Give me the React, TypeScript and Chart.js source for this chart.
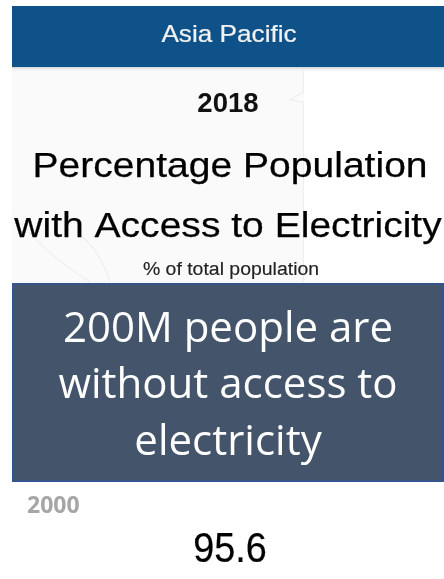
import React, { useEffect, useRef } from "react";
import { Chart, registerables } from "chart.js";

Chart.register(...registerables);

// ---- data ----
const regionLabels = ["Asia Pacific"];
const yearLabels = ["2018", "2000"];
const titleLines = ["Percentage Population", "with Access to Electricity"];
const subtitleLines = ["% of total population"];
const calloutLines = ["200M people are", "without access to", "electricity"];
const kpiValues = [95.6];

const ARIAL = '"Liberation Sans", Arial, sans-serif';
const CALIBRI = '"Open Sans", "Noto Sans", sans-serif';

function drawText(
  ctx: CanvasRenderingContext2D,
  text: string,
  x: number,
  y: number,
  font: string,
  color: string,
  align: CanvasTextAlign = "center",
  sx = 1,
  weight = 0
) {
  ctx.save();
  ctx.translate(x, y);
  ctx.scale(sx, 1);
  ctx.font = font;
  ctx.fillStyle = color;
  ctx.textAlign = align;
  ctx.textBaseline = "alphabetic";
  ctx.fillText(text, 0, 0);
  if (weight > 0) {
    ctx.strokeStyle = color;
    ctx.lineWidth = weight;
    ctx.lineJoin = "round";
    ctx.strokeText(text, 0, 0);
  }
  ctx.restore();
}

const cardPlugin = {
  id: "kpiCard",
  beforeDraw(chart: any) {
    const ctx: CanvasRenderingContext2D = chart.ctx;
    const W = chart.width;
    const H = chart.height;
    ctx.save();
    // page background
    ctx.fillStyle = "#ffffff";
    ctx.fillRect(0, 0, W, H);

    // faint map background
    ctx.fillStyle = "#fafafa";
    ctx.fillRect(12, 70, 292, 213);
    ctx.strokeStyle = "#eeeeee";
    ctx.lineWidth = 1.2;
    ctx.beginPath();
    ctx.moveTo(303.5, 70);
    ctx.lineTo(303.5, 92);
    ctx.lineTo(290, 100);
    ctx.lineTo(303.5, 102);
    ctx.lineTo(303.5, 283);
    ctx.stroke();
    ctx.beginPath();
    ctx.moveTo(14, 215);
    ctx.quadraticCurveTo(40, 250, 90, 282);
    ctx.stroke();
    ctx.beginPath();
    ctx.moveTo(80, 235);
    ctx.quadraticCurveTo(100, 250, 110, 282);
    ctx.stroke();

    // header band
    ctx.fillStyle = "#0e5289";
    ctx.fillRect(12, 6, W - 12, 61);
    const grad = ctx.createLinearGradient(0, 67, 0, 72);
    grad.addColorStop(0, "#cfd3d8");
    grad.addColorStop(1, "rgba(240,240,240,0)");
    ctx.fillStyle = grad;
    ctx.fillRect(12, 67, W - 12, 5);
    drawText(ctx, regionLabels[0], 229, 42, `24px ${ARIAL}`, "#f2f2f2", "center", 1.09, 0.2);

    // year + title
    drawText(ctx, yearLabels[0], 228, 112, `bold 27px ${ARIAL}`, "#111111", "center", 1.02);
    drawText(ctx, titleLines[0], 230, 177, `35.5px ${ARIAL}`, "#000000", "center", 1.1, 0.25);
    drawText(ctx, titleLines[1], 228, 237, `35.5px ${ARIAL}`, "#000000", "center", 1.1, 0.25);
    drawText(ctx, subtitleLines[0], 231, 275, `18px ${ARIAL}`, "#222222", "center", 1.08, 0.15);

    // callout box
    ctx.fillStyle = "#44546a";
    ctx.fillRect(12, 283, W - 12, 199);
    ctx.strokeStyle = "#2f5597";
    ctx.lineWidth = 1.5;
    ctx.strokeRect(12.75, 283.75, W - 14.5, 197.5);
    const baselines = [342, 398, 455];
    calloutLines.forEach((line, i) => {
      drawText(ctx, line, 228, baselines[i], `42px ${CALIBRI}`, "#ffffff", "center", 1);
    });

    // comparison year + KPI value
    drawText(ctx, yearLabels[1], 27, 513, `bold 23px ${CALIBRI}`, "#a6a6a6", "left", 1);
    drawText(ctx, kpiValues[0].toFixed(1), 230, 562, `43px ${ARIAL}`, "#000000", "center", 0.88, 0.2);
    ctx.restore();
  },
};

export default function App() {
  const ref = useRef<HTMLCanvasElement | null>(null);
  useEffect(() => {
    if (!ref.current) return;
    const chart = new Chart(ref.current, {
      type: "bar",
      data: { labels: [], datasets: [] },
      options: {
        animation: false,
        responsive: false,
        maintainAspectRatio: false,
        layout: { padding: 0 },
        plugins: { legend: { display: false }, tooltip: { enabled: false }, title: { display: false } },
        scales: { x: { display: false }, y: { display: false } },
      },
      plugins: [cardPlugin],
    });
    return () => chart.destroy();
  }, []);
  return (
    <div style={{ position: "fixed", left: 0, top: 0, width: 444, height: 579, background: "#fff" }}>
      <canvas ref={ref} width={444} height={579} style={{ display: "block", width: 444, height: 579 }} />
    </div>
  );
}
